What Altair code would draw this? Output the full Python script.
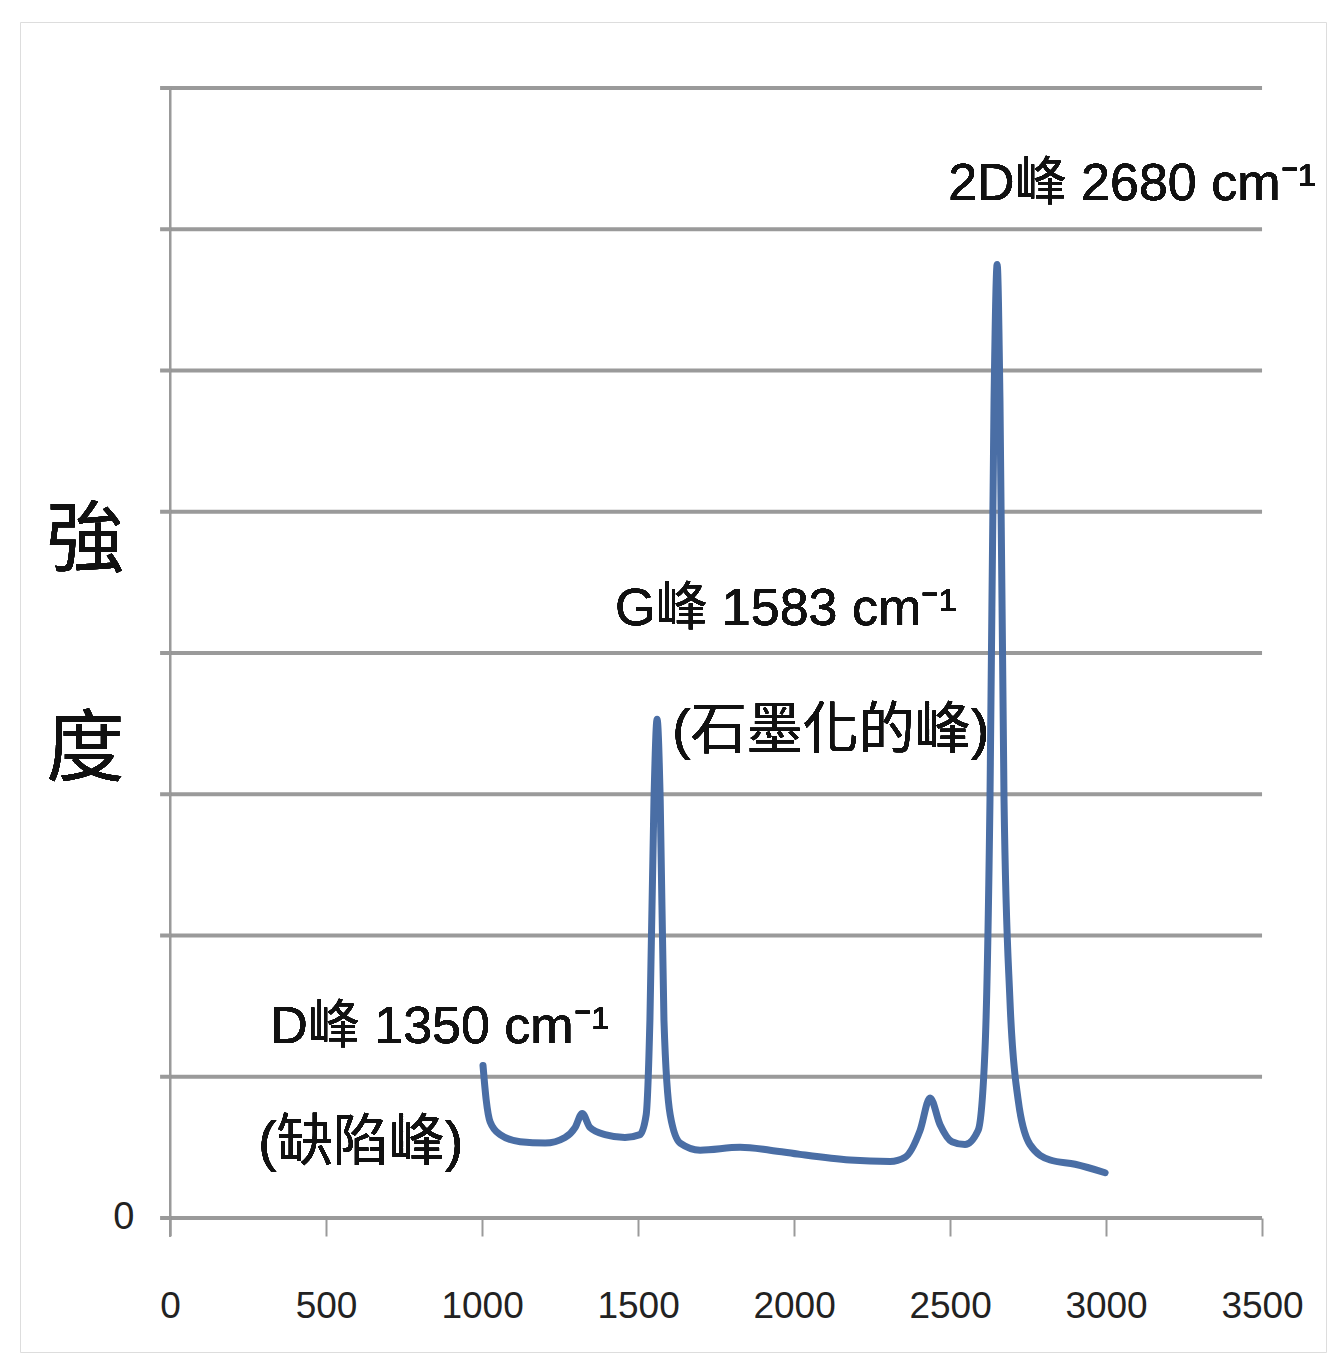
import altair as alt
import pandas as pd

# Raman spectrum (wavenumber cm-1, intensity in grid units)
wavenumber = [1003, 1013, 1026, 1058, 1122, 1202, 1266, 1298, 1321, 1346, 1394, 1458,
              1506, 1526, 1538, 1551, 1561, 1571, 1583, 1603, 1635, 1699, 1827, 1923,
              2019, 2179, 2308, 2356, 2404, 2436, 2468, 2506, 2548, 2590, 2612, 2628,
              2641, 2651, 2660, 2673, 2692, 2718, 2756, 2821, 2901, 2997]
intensity = [1.08, 0.84, 0.68, 0.59, 0.54, 0.53, 0.57, 0.64, 0.74, 0.64, 0.59, 0.57,
             0.59, 0.73, 1.40, 2.96, 3.53, 2.96, 1.40, 0.73, 0.53, 0.48, 0.50, 0.48,
             0.45, 0.41, 0.40, 0.43, 0.62, 0.85, 0.66, 0.54, 0.52, 0.62, 1.19, 2.96,
             5.79, 6.75, 5.79, 2.96, 1.54, 0.84, 0.52, 0.41, 0.38, 0.32]
grid_levels = [0, 1, 2, 3, 4, 5, 6, 7, 8]
x_ticks = [0, 500, 1000, 1500, 2000, 2500, 3000, 3500]

spec = pd.DataFrame({"w": wavenumber, "i": intensity})
grid = pd.DataFrame({"g": grid_levels})

LATIN = "Liberation Sans, Noto Sans CJK TC"
CJK = "Noto Sans CJK TC"
GREY = "#9a9a9a"
BLUE = "#4a6ea5"

xs = alt.Scale(domain=[-481, 3705], nice=False, zero=False)
ys = alt.Scale(domain=[-0.949, 8.467], nice=False, zero=False)

gridlines = alt.Chart(grid).mark_rule(color=GREY, strokeWidth=4).encode(
    y=alt.Y("g:Q", scale=ys, axis=alt.Axis(values=[0], offset=-150, domain=False, ticks=False,
                                            grid=False, labelPadding=36, labelFontSize=38,
                                            labelFont=LATIN, labelColor="#222", format="d",
                                            title=None)),
    x=alt.datum(-32, scale=xs),
    x2=alt.datum(3500),
)

yline = alt.Chart(grid).mark_rule(color=GREY, strokeWidth=2).encode(
    x=alt.datum(0, scale=xs),
    y=alt.datum(-0.13, scale=ys),
    y2=alt.datum(8),
)

line = alt.Chart(spec).mark_line(color=BLUE, strokeWidth=7, interpolate="monotone",
                                 strokeCap="round", strokeJoin="round").encode(
    x=alt.X("w:Q", scale=xs, axis=alt.Axis(values=x_ticks, offset=-134, domain=False,
                                            tickSize=18, tickColor=GREY, tickWidth=2,
                                            labelPadding=52, labelFontSize=37, labelFont=LATIN,
                                            labelColor="#222", format="d", grid=False,
                                            title=None, labelFlush=False)),
    y=alt.Y("i:Q", scale=ys),
)


def label(text, x, y, size, font=LATIN, align="left", baseline="alphabetic"):
    return alt.Chart(grid).mark_text(text=text, fontSize=size, font=font, align=align,
                                     baseline=baseline, color="#111").encode(
        x=alt.datum(x, scale=xs), y=alt.datum(y, scale=ys))


texts = [
    label("2D峰 2680 cm⁻¹", 2494, 7.21, 52),
    label("G峰 1583 cm⁻¹", 1426, 4.20, 52),
    label("(石墨化的峰)", 1609, 3.45, 56, baseline="middle"),
    label("D峰 1350 cm⁻¹", 321, 1.24, 52),
    label("(缺陷峰)", 282, 0.53, 56, baseline="middle"),
    label("強", -272, 4.78, 78, font=CJK, align="center", baseline="middle"),
    label("度", -272, 3.30, 78, font=CJK, align="center", baseline="middle"),
]

chart = alt.layer(gridlines, yline, line, *texts).properties(
    width=1306, height=1330,
    autosize=alt.AutoSizeParams(type="none"),
    padding={"left": 12, "top": 14, "right": 2, "bottom": 3},
).configure_view(stroke="#8c8c8c", strokeWidth=3).configure(background="white")

chart.save("out.html", embed_options={"renderer": "svg", "actions": False})
